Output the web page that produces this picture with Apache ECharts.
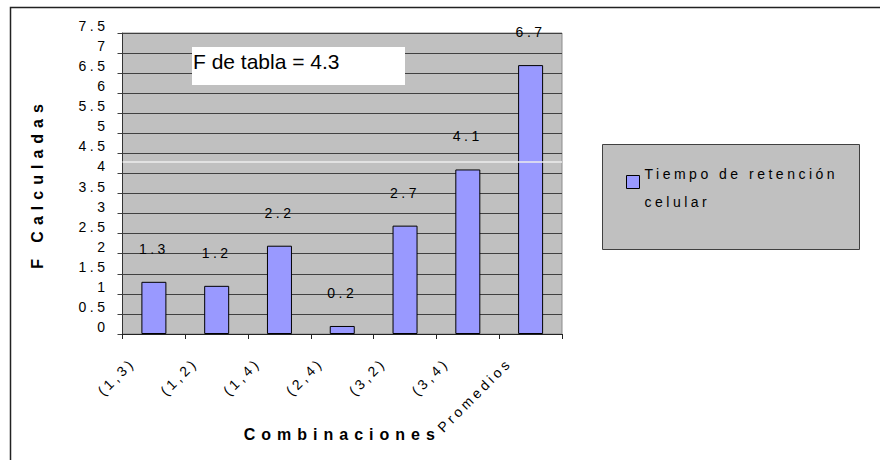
<!DOCTYPE html>
<html>
<head>
<meta charset="utf-8">
<script src="https://cdn.jsdelivr.net/npm/echarts@6/dist/echarts.min.js"></script>
<style>
  html, body { margin: 0; padding: 0; background: #fff; }
  #chart { width: 880px; height: 460px; }
  /* spaced-out lettering used across the chart */
  #chart text { letter-spacing: 3.5px; }
  #chart text[style*="bold"], #chart text[font-weight="bold"] { letter-spacing: 6px; }
  #chart text[style*="21px"], #chart text[font-size="21px"] { letter-spacing: 0; }
</style>
</head>
<body>
<div id="chart"></div>
<script>
// Combinations compared and their calculated F values
const categories = ['(1,3)', '(1,2)', '(1,4)', '(2,4)', '(3,2)', '(3,4)', 'Promedios'];
const fCalculadas = [1.3, 1.2, 2.2, 0.2, 2.7, 4.1, 6.7];
const seriesName = 'Tiempo de retención celular';
// Critical F from the table
const fTabla = 4.3;
// Value axis range
const yMin = 0;
const yMax = 7.5;
const yStep = 0.5;

const FONT = '"Liberation Sans", Arial, sans-serif';

const chart = echarts.init(document.getElementById('chart'), null, { renderer: 'svg' });

chart.setOption({
  animation: false,
  backgroundColor: '#ffffff',
  textStyle: { fontFamily: FONT, color: '#000' },
  grid: {
    left: 122.5, top: 33, right: 318, bottom: 126,
    show: true, backgroundColor: '#c0c0c0', borderColor: '#8c8c8c', borderWidth: 1
  },
  legend: {
    left: 626, top: 147, padding: 0,
    itemWidth: 13, itemHeight: 13,
    icon: 'rect',
    selectedMode: false,
    z: 10,
    itemStyle: { borderColor: '#000', borderWidth: 1 },
    textStyle: {
      fontFamily: FONT, fontSize: 14, color: '#000',
      rich: {
        s: { fontSize: 14, lineHeight: 12 },
        t: { fontFamily: FONT, fontSize: 14, color: '#000', lineHeight: 28 }
      }
    },
    // name wraps before its last word, sitting a little below the swatch
    formatter: name => '{s| }\n{t|' + name.replace(/ (\S+)$/, '}\n{t|$1') + '}'
  },
  xAxis: {
    type: 'category',
    data: categories,
    name: 'Combinaciones',
    nameLocation: 'middle',
    nameGap: 92,
    nameTextStyle: { fontFamily: FONT, fontSize: 16, fontWeight: 'bold', color: '#000' },
    axisLine: { lineStyle: { color: '#222', width: 1 } },
    axisTick: { show: true, length: 5, lineStyle: { color: '#222' } },
    axisLabel: {
      interval: 0, rotate: 45, margin: 5, fontSize: 14, color: '#000',
      fontFamily: FONT, padding: [0, 30, 0, 0]
    },
    splitLine: { show: false }
  },
  yAxis: {
    type: 'value',
    min: yMin, max: yMax, interval: yStep,
    name: 'F Calculadas',
    nameLocation: 'middle',
    nameRotate: 90,
    nameGap: 77,
    nameTextStyle: { fontFamily: FONT, fontSize: 16, fontWeight: 'bold', color: '#000' },
    axisLine: { show: true, lineStyle: { color: '#333', width: 1 } },
    axisTick: { show: true, length: 5, lineStyle: { color: '#404040' } },
    axisLabel: { margin: 14, fontSize: 14, color: '#000', fontFamily: FONT, verticalAlign: 'bottom' },
    splitLine: { show: true, lineStyle: { color: '#404040', width: 1 } }
  },
  series: [{
    name: seriesName,
    type: 'bar',
    data: fCalculadas,
    barWidth: 25,
    itemStyle: { color: '#9999ff', borderColor: '#000', borderWidth: 1 },
    label: {
      show: true, position: 'top', distance: 26,
      fontSize: 14, color: '#000', fontFamily: FONT
    },
    markLine: {
      silent: true,
      symbol: 'none',
      label: { show: false },
      lineStyle: { color: '#eeeeee', width: 1.5, type: 'solid' },
      data: [{ yAxis: fTabla }]
    }
  }],
  graphic: [
    {
      type: 'polyline', z: 0, silent: true,
      shape: { points: [[10.5, 470], [10.5, 7.5], [890, 7.5]] },
      style: { stroke: '#222', lineWidth: 1.5, fill: null }
    },
    {
      type: 'rect', z: 1, silent: true,
      shape: { x: 602.5, y: 144.5, width: 257, height: 105 },
      style: { fill: '#c0c0c0', stroke: '#404040', lineWidth: 1 }
    },
    {
      type: 'rect', z: 100, silent: true,
      shape: { x: 192, y: 47, width: 213, height: 38 },
      style: { fill: '#ffffff' }
    },
    {
      type: 'text', z: 101, silent: true,
      x: 193, y: 61,
      style: {
        text: 'F de tabla = ' + fTabla,
        font: '21px ' + FONT,
        fill: '#000',
        textVerticalAlign: 'middle', verticalAlign: 'middle'
      }
    }
  ]
});
</script>
</body>
</html>
